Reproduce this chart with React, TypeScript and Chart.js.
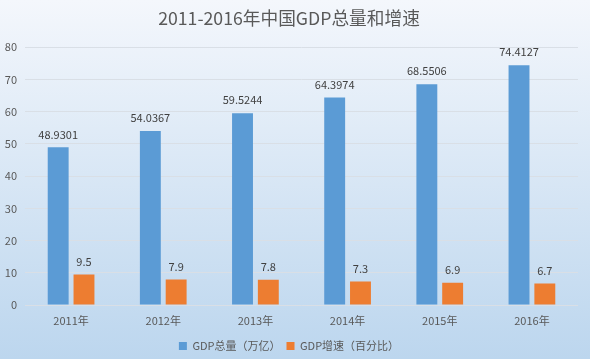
import React, { useEffect, useRef } from "react";
import { Chart, registerables } from "chart.js";

Chart.register(...registerables);

const categories = ["2011年", "2012年", "2013年", "2014年", "2015年", "2016年"];
const gdpTotal = [48.9301, 54.0367, 59.5244, 64.3974, 68.5506, 74.4127];
const gdpGrowth = [9.5, 7.9, 7.8, 7.3, 6.9, 6.7];
const gdpTotalLabels = ["48.9301", "54.0367", "59.5244", "64.3974", "68.5506", "74.4127"];
const gdpGrowthLabels = ["9.5", "7.9", "7.8", "7.3", "6.9", "6.7"];
const seriesNames = ["GDP总量（万亿）", "GDP增速（百分比）"];
const titleText = "2011-2016年中国GDP总量和增速";

const FONT = "'Noto Sans CJK SC', 'Noto Sans', sans-serif";

const bgPlugin = {
  id: "bgGradient",
  beforeDraw(chart: any) {
    const { ctx, width, height } = chart;
    const g = ctx.createLinearGradient(0, 0, 0, height);
    g.addColorStop(0, "#f4f7fc");
    g.addColorStop(1, "#bcd6ee");
    ctx.save();
    ctx.fillStyle = g;
    ctx.fillRect(0, 0, width, height);
    ctx.restore();
  },
};

const labelPlugin = {
  id: "valueLabels",
  afterDatasetsDraw(chart: any) {
    const { ctx } = chart;
    const labelSets = [gdpTotalLabels, gdpGrowthLabels];
    ctx.save();
    ctx.font = `11px ${FONT}`;
    ctx.fillStyle = "#404040";
    ctx.textAlign = "center";
    ctx.textBaseline = "middle";
    chart.data.datasets.forEach((_ds: any, di: number) => {
      const meta = chart.getDatasetMeta(di);
      meta.data.forEach((bar: any, i: number) => {
        ctx.fillText(labelSets[di][i], bar.x, bar.y - 13);
      });
    });
    ctx.restore();
  },
};

export default function App() {
  const ref = useRef<HTMLCanvasElement>(null);
  useEffect(() => {
    document.body.style.margin = "0";
    const chart = new Chart(ref.current as HTMLCanvasElement, {
      type: "bar",
      data: {
        labels: categories,
        datasets: [
          {
            label: seriesNames[0],
            data: gdpTotal,
            backgroundColor: "#5b9bd5",
            barPercentage: 0.81,
            categoryPercentage: 0.56,
          },
          {
            label: seriesNames[1],
            data: gdpGrowth,
            backgroundColor: "#ed7d31",
            barPercentage: 0.81,
            categoryPercentage: 0.56,
          },
        ],
      },
      options: {
        responsive: false,
        animation: false,
        layout: { padding: { left: 0, right: 12, top: 0, bottom: -2.5 } },
        plugins: {
          title: {
            display: true,
            text: titleText,
            color: "#595959",
            font: { family: FONT, size: 17.7, weight: "normal" },
            padding: { top: 8, bottom: 18 },
          },
          legend: {
            position: "bottom",
            labels: {
              color: "#595959",
              font: { family: FONT, size: 11 },
              boxWidth: 8,
              boxHeight: 8,
              padding: 6,
            },
          },
          tooltip: { enabled: false },
        },
        scales: {
          x: {
            grid: { display: false, drawTicks: false },
            border: { display: false },
            ticks: {
              color: "#595959",
              font: { family: FONT, size: 11 },
              padding: 9,
            },
            afterFit(s: any) {
              s.height = 29.5;
            },
          },
          y: {
            min: 0,
            max: 80,
            grid: { color: "#d9dfe6", drawTicks: false },
            border: { display: false },
            ticks: {
              stepSize: 10,
              color: "#595959",
              font: { family: FONT, size: 11 },
              padding: 8,
            },
            afterFit(s: any) {
              s.width = 25;
            },
          },
        },
      },
      plugins: [bgPlugin, labelPlugin],
    });
    return () => chart.destroy();
  }, []);
  return (
    <div style={{ width: 590, height: 359 }}>
      <canvas ref={ref} width={590} height={359} style={{ display: "block" }} />
    </div>
  );
}
